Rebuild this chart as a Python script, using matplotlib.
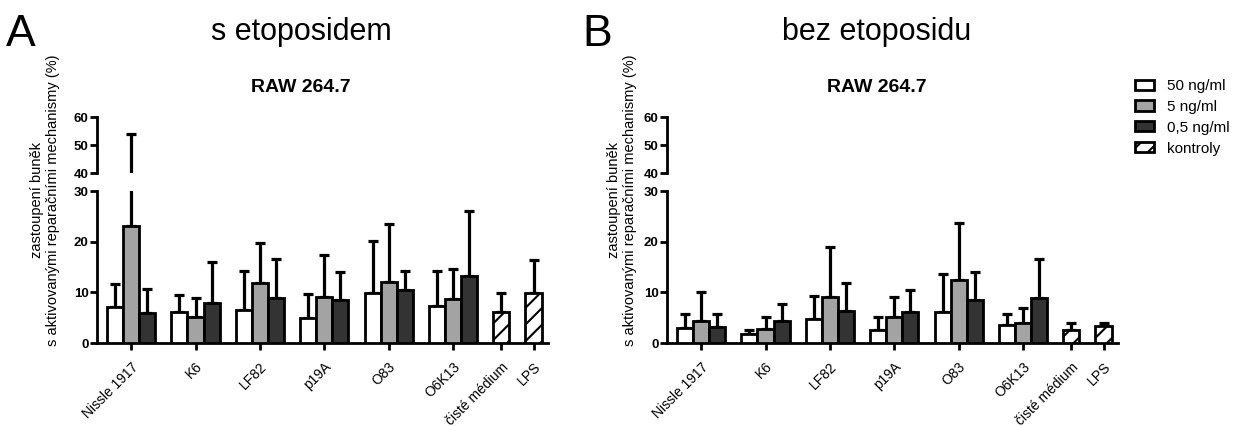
import numpy as np
import matplotlib
matplotlib.use("Agg")
import matplotlib.pyplot as plt
from matplotlib.patches import Patch

plt.rcParams["font.family"] = ["Liberation Sans", "DejaVu Sans"]
plt.rcParams["hatch.linewidth"] = 1.5

# ---- data -------------------------------------------------------------
strains = ["Nissle 1917", "K6", "LF82", "p19A", "O83", "O6K13"]
controls = ["čisté médium", "LPS"]
doses = ["50 ng/ml", "5 ng/ml", "0,5 ng/ml"]
control_label = "kontroly"

# panel A: s etoposidem (mean, SD) for each dose
a_mean_50 = [7.2, 6.1, 6.6, 5.0, 9.8, 7.4]
a_sd_50 = [4.4, 3.4, 7.7, 4.7, 10.3, 6.9]
a_mean_5 = [23.1, 5.1, 11.8, 9.0, 12.0, 8.6]
a_sd_5 = [30.8, 3.8, 7.9, 8.4, 11.4, 6.0]
a_mean_05 = [6.0, 7.8, 8.8, 8.4, 10.5, 13.3]
a_sd_05 = [4.7, 8.2, 7.7, 5.7, 3.8, 12.8]
a_ctrl_mean = [6.1, 9.9]
a_ctrl_sd = [3.7, 6.4]

# panel B: bez etoposidu
b_mean_50 = [2.9, 1.8, 4.8, 2.5, 6.1, 3.5]
b_sd_50 = [2.8, 0.8, 4.5, 2.6, 7.5, 2.2]
b_mean_5 = [4.4, 2.8, 9.1, 5.1, 12.4, 4.0]
b_sd_5 = [5.7, 2.3, 9.8, 3.9, 11.3, 3.0]
b_mean_05 = [3.2, 4.4, 6.4, 6.1, 8.4, 8.8]
b_sd_05 = [2.5, 3.2, 5.4, 4.4, 5.7, 7.7]
b_ctrl_mean = [2.5, 3.4]
b_ctrl_sd = [1.4, 0.5]

# ---- styling ----------------------------------------------------------
W, H = 1233, 426
DPI = 100
dose_colors = ["#ffffff", "#a3a3a3", "#333333"]
LW = 2.0
ELW = 2.3

fig = plt.figure(figsize=(W / DPI, H / DPI), dpi=DPI)


def px_axes(left, top, right, bottom):
    return fig.add_axes([left / W, 1 - bottom / H, (right - left) / W, (bottom - top) / H])


group_pos = np.arange(len(strains)) * 4.0
ctrl_pos = np.array([23.0, 25.0])
XLIM = (-2.12, 25.9)


def draw_bars(ax, means, sds, ctrl_mean, ctrl_sd):
    for k, (m, s) in enumerate(zip(means, sds)):
        x = group_pos + (k - 1)
        ax.bar(x, m, width=1.0, color=dose_colors[k], edgecolor="black",
               linewidth=LW, zorder=3)
        ax.errorbar(x, m, yerr=[np.zeros(len(m)), s], fmt="none", ecolor="black",
                    elinewidth=ELW, capsize=3.5, capthick=ELW, zorder=2)
    ax.bar(ctrl_pos, ctrl_mean, width=1.0, color="white", edgecolor="black",
           hatch="//", linewidth=LW, zorder=3)
    ax.errorbar(ctrl_pos, ctrl_mean, yerr=[np.zeros(2), ctrl_sd], fmt="none",
                ecolor="black", elinewidth=ELW, capsize=3.5, capthick=ELW, zorder=2)


def panel(x0, data, letter, title, letter_x, title_x, ylab_x):
    means, sds, cm, cs = data
    lo = px_axes(x0, 191, x0 + 451, 343)
    hi = px_axes(x0, 117, x0 + 451, 173)
    for ax in (lo, hi):
        draw_bars(ax, means, sds, cm, cs)
        ax.set_xlim(*XLIM)
        for side in ("top", "right"):
            ax.spines[side].set_visible(False)
        ax.spines["left"].set_linewidth(LW)
        ax.spines["bottom"].set_linewidth(LW)
        ax.tick_params(axis="y", width=LW, length=5, labelsize=9.5, pad=1)
    lo.set_ylim(0, 30)
    lo.set_yticks([0, 10, 20, 30])
    hi.set_ylim(40, 60)
    hi.set_yticks([40, 50, 60])
    for ax in (lo, hi):
        for t in ax.get_yticklabels():
            t.set_fontweight("bold")
    hi.spines["bottom"].set_visible(False)
    hi.set_xticks([])
    ticks = list(group_pos) + list(ctrl_pos)
    lo.set_xticks(ticks)
    lo.set_xticklabels(strains + controls, rotation=45, ha="right",
                       rotation_mode="anchor", fontsize=10)
    lo.tick_params(axis="x", width=LW, length=5, pad=7)

    fig.text(letter_x / W, 1 - 34 / H, letter, fontsize=32, ha="left", va="center")
    fig.text(title_x / W, 1 - 32 / H, title, fontsize=22, ha="center", va="center")
    fig.text(title_x / W, 1 - 87 / H, "RAW 264.7", fontsize=14, fontweight="bold",
             ha="center", va="center")
    fig.text(ylab_x / W, 1 - 200 / H,
             "zastoupení buněk\ns aktivovanými reparačními mechanismy (%)",
             rotation=90, fontsize=10.5, ha="center", va="center",
             multialignment="center", linespacing=1.1)


panel(97, ([a_mean_50, a_mean_5, a_mean_05], [a_sd_50, a_sd_5, a_sd_05],
           a_ctrl_mean, a_ctrl_sd), "A", "s etoposidem", 6, 301, 45)
panel(667, ([b_mean_50, b_mean_5, b_mean_05], [b_sd_50, b_sd_5, b_sd_05],
            b_ctrl_mean, b_ctrl_sd), "B", "bez etoposidu", 582, 877, 622)

handles = [Patch(facecolor=c, edgecolor="black", linewidth=LW) for c in dose_colors]
handles.append(Patch(facecolor="white", edgecolor="black", hatch="//", linewidth=LW))
fig.legend(handles, doses + [control_label], loc="upper left",
           bbox_to_anchor=(1135 / W, 1 - 79 / H), frameon=False, fontsize=11,
           handlelength=1.25, handleheight=0.65, handletextpad=0.85,
           labelspacing=0.45, borderaxespad=0, borderpad=0)

fig.savefig("out.png", dpi=DPI)
